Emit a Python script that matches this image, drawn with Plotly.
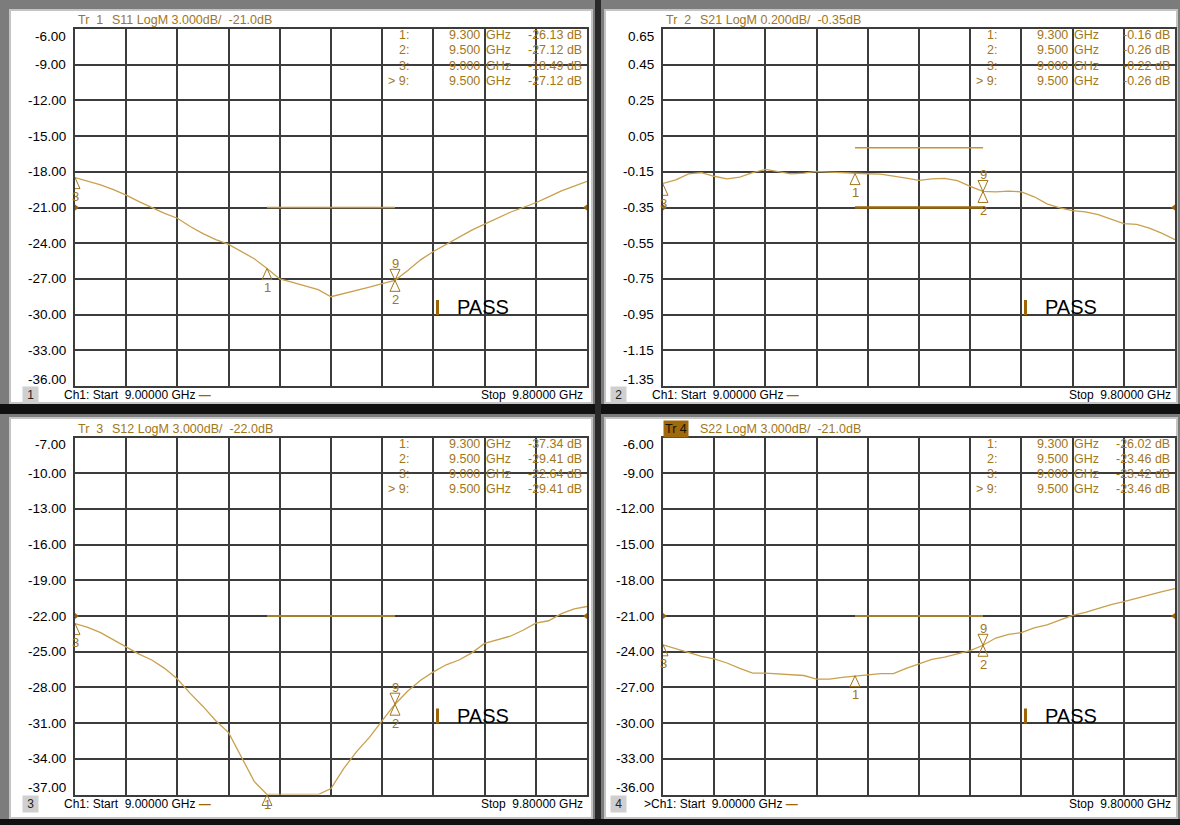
import plotly.graph_objects as go

W, H = 1180, 825

# ---------------- data ----------------
freq_ghz = [9.00, 9.02, 9.04, 9.06, 9.08, 9.10, 9.12, 9.14, 9.16, 9.18,
            9.20, 9.22, 9.24, 9.26, 9.28, 9.30, 9.32, 9.34, 9.36, 9.38,
            9.40, 9.42, 9.44, 9.46, 9.48, 9.50, 9.52, 9.54, 9.56, 9.58,
            9.60, 9.62, 9.64, 9.66, 9.68, 9.70, 9.72, 9.74, 9.76, 9.78, 9.80]

s11_db = [-18.49, -18.8, -19.1, -19.5, -19.96, -20.5, -21.0, -21.5, -21.9, -22.6,
          -23.2, -23.7, -24.1, -24.7, -25.3, -26.13, -27.0, -27.3, -27.6, -27.9,
          -28.5, -28.25, -28.0, -27.7, -27.4, -27.12, -26.3, -25.4, -24.7, -24.1,
          -23.5, -22.9, -22.4, -21.9, -21.4, -21.0, -20.6, -20.1, -19.6, -19.2, -18.8]

s21_db = [-0.215, -0.195, -0.162, -0.155, -0.175, -0.19, -0.18, -0.155, -0.137, -0.15,
          -0.162, -0.157, -0.148, -0.152, -0.156, -0.16, -0.161, -0.163, -0.172, -0.185,
          -0.198, -0.19, -0.187, -0.20, -0.232, -0.26, -0.262, -0.258, -0.262, -0.29,
          -0.33, -0.352, -0.368, -0.375, -0.39, -0.415, -0.44, -0.445, -0.465, -0.495, -0.53]

s12_db = [-22.64, -22.95, -23.4, -24.0, -24.6, -25.2, -25.7, -26.4, -27.3, -28.5,
          -29.6, -30.8, -31.8, -33.9, -35.9, -37.34, -38.2, -38.6, -38.5, -37.8,
          -36.5, -34.8, -33.4, -32.2, -30.8, -29.41, -28.3, -27.4, -26.7, -26.1,
          -25.7, -25.1, -24.3, -24.0, -23.7, -23.2, -22.6, -22.4, -21.8, -21.4, -21.2]

s22_db = [-23.42, -23.75, -24.1, -24.4, -24.6, -24.95, -25.4, -25.8, -25.8, -25.85,
          -25.9, -26.0, -26.3, -26.3, -26.15, -26.02, -25.95, -25.85, -25.85, -25.4,
          -25.05, -24.65, -24.45, -24.2, -23.9, -23.46, -22.85, -22.55, -22.4, -22.0,
          -21.75, -21.35, -20.95, -20.7, -20.35, -20.05, -19.8, -19.5, -19.2, -18.95, -18.7]

marker_ids = ["1", "2", "3", "9"]
marker_freq_ghz = [9.300, 9.500, 9.000, 9.500]
s11_marker_db = [-26.13, -27.12, -18.49, -27.12]
s21_marker_db = [-0.16, -0.26, -0.22, -0.26]
s12_marker_db = [-37.34, -29.41, -22.64, -29.41]
s22_marker_db = [-26.02, -23.46, -23.42, -23.46]

limit_freq_ghz = [9.30, 9.50]
s11_limits_db = [-21.0]
s21_limits_db = [-0.015, -0.35]
s12_limits_db = [-22.0]
s22_limits_db = [-21.0]

s11_tickvals = [-6, -9, -12, -15, -18, -21, -24, -27, -30, -33, -36]
s21_tickvals = [0.65, 0.45, 0.25, 0.05, -0.15, -0.35, -0.55, -0.75, -0.95, -1.15, -1.35]
s12_tickvals = [-7, -10, -13, -16, -19, -22, -25, -28, -31, -34, -37]
s22_tickvals = [-6, -9, -12, -15, -18, -21, -24, -27, -30, -33, -36]

headers = ["S11 LogM 3.000dB/\u00a0\u00a0-21.0dB", "S21 LogM 0.200dB/\u00a0\u00a0-0.35dB",
           "S12 LogM 3.000dB/\u00a0\u00a0-22.0dB", "S22 LogM 3.000dB/\u00a0\u00a0-21.0dB"]
ref_levels = [-21.0, -0.35, -22.0, -21.0]
start_ghz, stop_ghz = 9.0, 9.8

# ---------------- style ----------------
BROWN = "#A2761A"
TRACE = "#C9A04E"
LIMIT = "#C8952C"
DARK_BROWN = "#9C6608"
GRID = "#3C3C3C"
FONT = "Liberation Sans, Arial, sans-serif"

fig = go.Figure()
shapes = []
annotations = []


def prect(x0, y0, x1, y1, fill, line=None, lw=0):
    shapes.append(dict(type="rect", xref="paper", yref="paper",
                       x0=x0 / W, x1=x1 / W, y0=1 - y1 / H, y1=1 - y0 / H,
                       fillcolor=fill, line=dict(color=line or fill, width=lw), layer="below"))


# window frame
prect(0, 404, 1180, 414, "#111111")
prect(595, 0, 601, 825, "#2a2a2a")
prect(0, 819, 1180, 825, "#111111")
for (a, b, c, d) in [(10, 10, 592, 403), (605, 10, 1177, 403), (10, 418, 592, 818), (605, 418, 1177, 818)]:
    prect(a, b, c, d, "white", "#c4c4c4", 2)

panels = [
    dict(x=(75, 587), y=(29, 386), yr=(-36, -6), dy=3, data=s11_db, mk=s11_marker_db,
         lim=s11_limits_db, ticks=s11_tickvals, fmt="{:.2f}"),
    dict(x=(663, 1175), y=(29, 386), yr=(-1.35, 0.65), dy=0.2, data=s21_db, mk=s21_marker_db,
         lim=s21_limits_db, ticks=s21_tickvals, fmt="{:.2f}"),
    dict(x=(75, 587), y=(437.5, 794.5), yr=(-37, -7), dy=3, data=s12_db, mk=s12_marker_db,
         lim=s12_limits_db, ticks=s12_tickvals, fmt="{:.2f}"),
    dict(x=(663, 1175), y=(437.5, 794.5), yr=(-36, -6), dy=3, data=s22_db, mk=s22_marker_db,
         lim=s22_limits_db, ticks=s22_tickvals, fmt="{:.2f}"),
]

layout_axes = {}
for i, p in enumerate(panels):
    n = i + 1
    xa = "x" if n == 1 else f"x{n}"
    ya = "y" if n == 1 else f"y{n}"
    xkey = "xaxis" if n == 1 else f"xaxis{n}"
    ykey = "yaxis" if n == 1 else f"yaxis{n}"
    ymin, ymax = p["yr"]
    layout_axes[xkey] = dict(domain=[p["x"][0] / W, p["x"][1] / W], range=[start_ghz, stop_ghz],
                             tick0=start_ghz, dtick=(stop_ghz - start_ghz) / 10, showticklabels=False,
                             showgrid=True, gridcolor=GRID, gridwidth=1.5, showline=True, mirror=True,
                             linecolor=GRID, linewidth=1.5, zeroline=False, ticks="", anchor=ya,
                             fixedrange=True)
    layout_axes[ykey] = dict(domain=[1 - p["y"][1] / H, 1 - p["y"][0] / H], range=[ymin, ymax],
                             tick0=ymin, dtick=p["dy"], showticklabels=False,
                             showgrid=True, gridcolor=GRID, gridwidth=1.5, showline=True, mirror=True,
                             linecolor=GRID, linewidth=1.5, zeroline=False, ticks="", anchor=xa,
                             fixedrange=True)

    # limit lines
    for k, lv in enumerate(p["lim"]):
        lower = (n == 2 and k == 1)
        fig.add_trace(go.Scatter(x=limit_freq_ghz, y=[lv, lv], xaxis=xa, yaxis=ya, mode="lines",
                                 line=dict(color=DARK_BROWN if lower else LIMIT, width=2.6 if lower else 1.5),
                                 hoverinfo="skip", showlegend=False))
    # trace (clipped at display limits like the analyzer)
    disp = [min(max(v, ymin), ymax) for v in p["data"]]
    fig.add_trace(go.Scatter(x=freq_ghz, y=disp, xaxis=xa, yaxis=ya, mode="lines",
                             line=dict(color=TRACE, width=1.3), hoverinfo="skip", showlegend=False))
    # reference level arrows
    fig.add_trace(go.Scatter(x=[start_ghz, stop_ghz], y=[ref_levels[i]] * 2, xaxis=xa, yaxis=ya,
                             mode="markers", cliponaxis=False,
                             marker=dict(symbol=["triangle-right", "triangle-left"], size=8, color=DARK_BROWN),
                             hoverinfo="skip", showlegend=False))

    # markers
    for mid, f, v in zip(marker_ids, marker_freq_ghz, p["mk"]):
        if v < ymin:
            yref, yanc = f"{ya} domain", 0
        else:
            yref, yanc = ya, v
        path = "M0,0 L-5,11 L5,11 Z" if mid == "9" else "M0,0 L-5,-11 L5,-11 Z"
        shapes.append(dict(type="path", xref=xa, yref=yref, xsizemode="pixel", ysizemode="pixel",
                           xanchor=f, yanchor=yanc, path=path, line=dict(color=BROWN, width=1),
                           fillcolor="rgba(0,0,0,0)", layer="above"))
        annotations.append(dict(x=f, y=yanc, xref=xa, yref=yref, text=mid, showarrow=False,
                                yshift=17 if mid == "9" else -19, font=dict(family=FONT, size=13, color=BROWN)))

    # marker table
    for j, (mid, f, v) in enumerate(zip(marker_ids, marker_freq_ghz, p["mk"])):
        ys = -(6 + 15.3 * j)
        label = ("&gt; " + mid + ":") if mid == "9" else (mid + ":")
        common = dict(xref=f"{xa} domain", yref=f"{ya} domain", y=1, yshift=ys, yanchor="middle",
                      showarrow=False, font=dict(family=FONT, size=12.5, color=BROWN))
        annotations.append(dict(x=336 / 512, xanchor="right", text=label, **common))
        annotations.append(dict(x=407 / 512, xanchor="right", text=f"{f:.3f}", **common))
        annotations.append(dict(x=409 / 512, xanchor="left", text="GHz", **common))
        annotations.append(dict(x=509 / 512, xanchor="right", text=f"{v:.2f} dB", **common))

    # y tick labels
    nt = len(p["ticks"])
    for k, tv in enumerate(p["ticks"]):
        ys = -7 if k == 0 else (7 if k == nt - 1 else 0)
        annotations.append(dict(x=0, y=tv, xref=f"{xa} domain", yref=ya, xanchor="right", xshift=-7,
                                yshift=ys, text=p["fmt"].format(tv), showarrow=False,
                                font=dict(family=FONT, size=13.5, color="#000000")))

    # header
    hdr = dict(xref=f"{xa} domain", yref=f"{ya} domain", y=1, yshift=9, yanchor="middle",
               xanchor="left", showarrow=False)
    if n == 4:
        annotations.append(dict(x=0, xshift=0, text=f"Tr\u00a0{n}", bgcolor="#A0690C", borderpad=1,
                                font=dict(family=FONT, size=12.5, color="#1a1000"), **hdr))
    else:
        annotations.append(dict(x=0, xshift=1, text=f"Tr\u00a0\u00a0{n}",
                                font=dict(family=FONT, size=12.5, color=BROWN), **hdr))
    annotations.append(dict(x=0, xshift=35, text=headers[i], font=dict(family=FONT, size=12.5, color=BROWN), **hdr))

    # footer
    ftr = dict(xref=f"{xa} domain", yref=f"{ya} domain", y=0, yshift=-9, yanchor="middle", showarrow=False)
    annotations.append(dict(x=0, xshift=-45, xanchor="center", text=f"\u00a0{n}\u00a0", bgcolor="#cfcfcf",
                            font=dict(family=FONT, size=12, color="#222222"), **ftr))
    prefix = "&gt;" if n == 4 else ""
    annotations.append(dict(x=0, xshift=-21 if n == 4 else -13, xanchor="left",
                            text=prefix + f"Ch1: Start\u00a0\u00a0{start_ghz:.5f} GHz "
                                 f"<span style='color:{DARK_BROWN}'><b>\u2014</b></span>",
                            font=dict(family=FONT, size=12, color="#000000"), **ftr))
    annotations.append(dict(x=1, xshift=-2, xanchor="right", text=f"Stop\u00a0\u00a0{stop_ghz:.5f} GHz",
                            font=dict(family=FONT, size=12, color="#000000"), **ftr))

    # PASS indicator
    shapes.append(dict(type="rect", xref=f"{xa} domain", yref=f"{ya} domain",
                       x0=361 / 512, x1=364 / 512, y0=1 - 286 / 357, y1=1 - 271 / 357,
                       fillcolor=DARK_BROWN, line=dict(width=0), layer="above"))
    annotations.append(dict(x=380 / 512, y=1 - 278 / 357, xref=f"{xa} domain", yref=f"{ya} domain",
                            xanchor="left", yanchor="middle", text="PASS", showarrow=False,
                            font=dict(family=FONT, size=20, color="#000000")))

fig.update_layout(width=W, height=H, autosize=False, margin=dict(l=0, r=0, t=0, b=0),
                  paper_bgcolor="#7c7c7c", plot_bgcolor="white", showlegend=False,
                  shapes=shapes, annotations=annotations, **layout_axes)

fig.write_html("out.html", config={"responsive": False, "displayModeBar": False},
               post_script="document.body.style.margin='0';"
                           "document.body.style.overflow='hidden';"
                           "document.documentElement.style.overflow='hidden';")
